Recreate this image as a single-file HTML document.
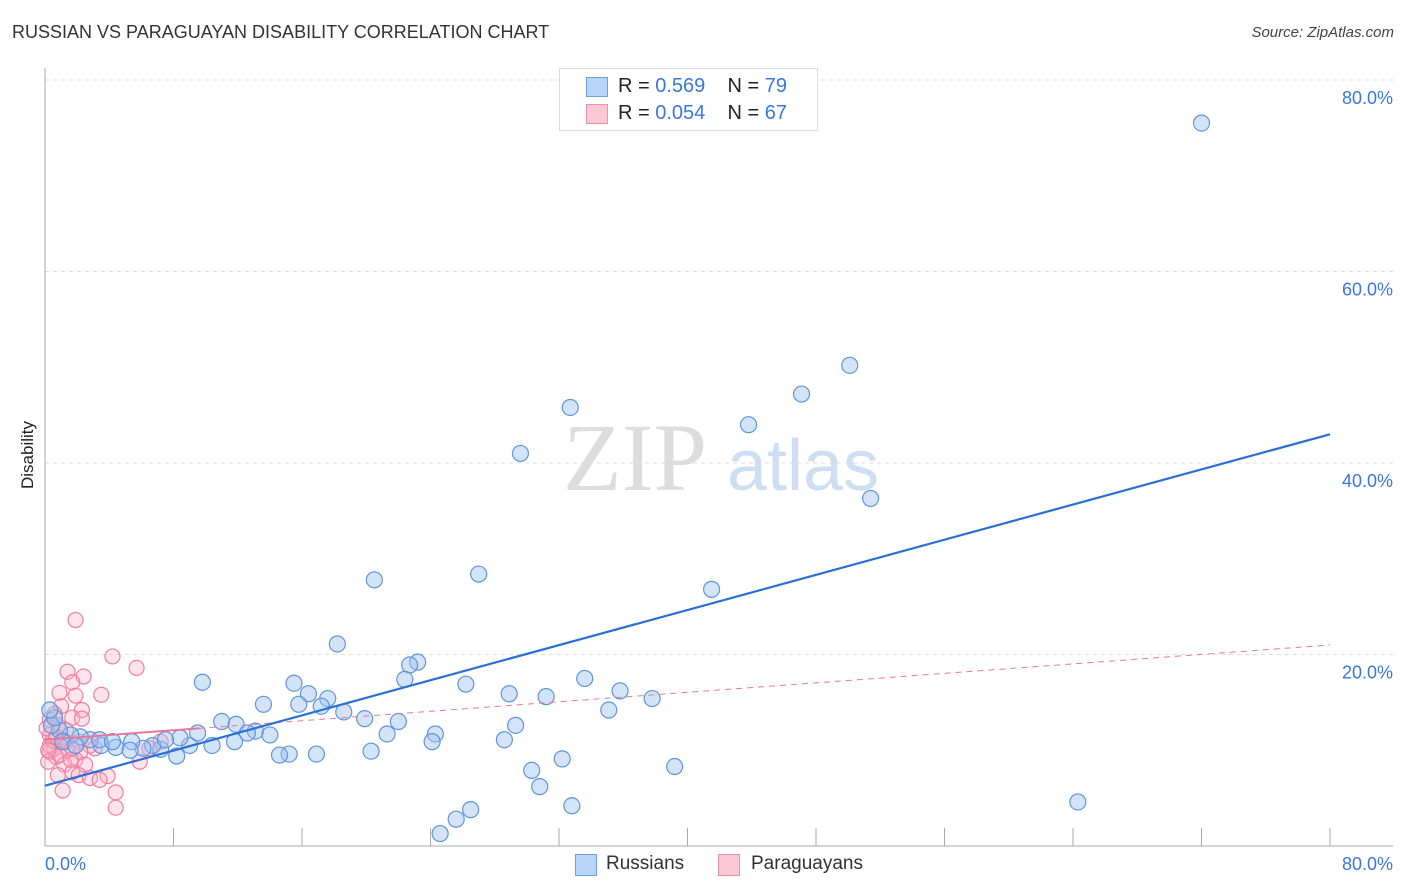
<!DOCTYPE html>
<html><head><meta charset="utf-8">
<style>
body{margin:0;background:#fff;font-family:"Liberation Sans",sans-serif;}
#wrap{position:relative;width:1406px;height:892px;overflow:hidden;}
.t{position:absolute;white-space:nowrap;}
</style></head>
<body>
<div id="wrap">
<div class="t" style="left:12px;top:22px;font-size:18px;color:#333;">RUSSIAN VS PARAGUAYAN DISABILITY CORRELATION CHART</div>
<div class="t" style="right:12px;top:24px;font-size:15px;font-style:italic;color:#444;">Source: ZipAtlas.com</div>
<svg id="chart" width="1406" height="892" style="position:absolute;left:0;top:0;"></svg>
<div class="t" style="left:18px;top:455px;transform:translate(-50%,-50%) rotate(-90deg);transform-origin:center;font-size:17px;color:#222;margin-left:10px;">Disability</div>
<div style="position:absolute;left:559px;top:68px;width:257px;height:61px;border:1px solid #ddd;background:#fff;">
 <div style="position:absolute;left:26px;top:8px;width:20px;height:18px;background:#b8d4f6;border:1px solid #6fa0e0;"></div>
 <div class="t" style="left:58px;top:6px;font-size:20px;color:#222;">R = <span style="color:#3a78d8">0.569</span>&nbsp;&nbsp;&nbsp; N = <span style="color:#3a78d8">79</span></div>
 <div style="position:absolute;left:26px;top:35px;width:20px;height:18px;background:#fbc8d6;border:1px solid #f090aa;"></div>
 <div class="t" style="left:58px;top:33px;font-size:20px;color:#222;">R = <span style="color:#3a78d8">0.054</span>&nbsp;&nbsp;&nbsp; N = <span style="color:#3a78d8">67</span></div>
</div>
<div>
 <div style="position:absolute;left:575px;top:854px;width:20px;height:20px;background:#b8d4f6;border:1px solid #6fa0e0;"></div>
 <div class="t" style="left:606px;top:853px;font-size:19px;color:#333;">Russians</div>
 <div style="position:absolute;left:718px;top:854px;width:20px;height:20px;background:#fbc8d6;border:1px solid #f090aa;"></div>
 <div class="t" style="left:751px;top:853px;font-size:19px;color:#333;">Paraguayans</div>
</div>
</div>
<script>
const blueX=[72.0,50.1,47.1,43.8,32.7,29.6,51.4,27.0,20.5,41.5,18.2,23.2,22.7,22.4,9.8,15.5,33.6,26.2,35.8,37.8,31.2,28.9,16.4,17.6,15.8,17.2,13.6,35.1,18.6,19.9,22.0,11.0,11.9,13.1,14.0,21.3,24.3,29.3,24.1,28.6,32.2,30.3,30.8,39.2,32.8,64.3,26.5,25.6,24.6,20.3,16.9,15.2,14.6,11.8,10.4,9.0,9.5,8.2,7.2,6.7,6.1,5.4,4.4,3.5,2.8,2.2,1.6,0.9,0.4,0.6,0.3,1.1,8.4,5.3,3.4,7.5,1.9,12.6,4.2];
const blueY=[75.5,50.2,47.2,44.0,45.8,41.0,36.3,28.4,27.8,26.8,21.1,19.2,18.9,17.4,17.1,17.0,17.5,16.9,16.2,15.4,15.6,15.9,15.9,15.4,14.8,14.6,14.8,14.2,14.0,13.3,13.0,13.0,12.7,12.0,11.6,11.7,11.7,12.6,10.9,11.1,9.1,7.9,6.2,8.3,4.2,4.6,3.8,2.8,1.3,9.9,9.6,9.6,9.5,10.9,10.5,10.5,11.8,9.4,10.1,10.5,10.2,10.9,10.3,10.5,11.1,11.4,11.6,12.1,12.6,13.4,14.2,10.9,11.3,10.0,11.1,11.1,10.5,11.8,10.9];
const pinkX=[1.9,4.2,5.7,1.4,2.4,1.7,3.5,0.9,1.9,1.0,2.3,0.6,1.7,2.3,0.3,0.8,1.3,0.3,1.1,2.1,2.8,0.6,1.4,0.3,2.2,0.7,1.9,0.2,1.2,5.9,2.5,1.7,0.8,2.1,3.9,2.8,3.4,1.1,4.4,4.4,0.3,0.5,0.9,1.3,1.6,0.1,3.1,7.2,6.5,0.2,0.7,1.7];
const pinkY=[23.6,19.8,18.6,18.2,17.7,17.1,15.8,16.0,15.7,14.6,14.2,13.8,13.4,13.3,13.2,12.6,12.1,11.6,11.1,10.9,10.5,10.2,10.0,9.8,9.8,9.3,9.0,8.8,8.5,8.8,8.5,7.7,7.4,7.4,7.3,7.1,6.9,5.8,5.6,4.0,10.5,11.0,9.5,10.9,9.0,12.3,10.2,10.9,10.2,10.0,11.4,10.2];
const blueTrend=[6.3,43.0];
const pinkTrend=[11.1,21.0];
const yTicks=[20,40,60,80];
const yTickLabels=["20.0%","40.0%","60.0%","80.0%"];

const X0=45,X1=1330,Y0=846,Y80=80;
const sx=v=>X0+(X1-X0)*v/80;
const sy=v=>Y0-(Y0-Y80)*v/80;
const NS="http://www.w3.org/2000/svg";
const svg=document.getElementById('chart');
function mk(t,a){const e=document.createElementNS(NS,t);for(const k in a)e.setAttribute(k,a[k]);svg.appendChild(e);return e;}

// watermark
let w1=mk('text',{x:635,y:490,'font-size':96,'font-family':'Liberation Serif,serif','fill':'#ddd','text-anchor':'middle'});w1.textContent='ZIP';


let w2=mk('text',{x:803,y:490,'font-size':72,'font-family':'Liberation Sans,sans-serif','fill':'#cfdff3','text-anchor':'middle'});w2.textContent='atlas';



yTicks.forEach((v,i)=>{
 const g=mk('line',{x1:X0,x2:1393,y1:sy(v),y2:sy(v),stroke:'#ddd','stroke-dasharray':'4,4'});
 
 
 const t=mk('text',{x:1393,y:sy(v)+24,'text-anchor':'end','font-size':18,fill:'#3a78d8','font-family':'Liberation Sans,sans-serif'});
 t.textContent=yTickLabels[i];
 
 
});
let ax=mk('line',{x1:X0,x2:X0,y1:68,y2:Y0,stroke:'#aaa'});


let bx=mk('line',{x1:X0,x2:1393,y1:Y0,y2:Y0,stroke:'#aaa'});


for(let i=0;i<=10;i++){
 const tk=mk('line',{x1:sx(i*8),x2:sx(i*8),y1:Y0,y2:Y0-18,stroke:'#aaa'});
 
 
}
const xl=mk('text',{x:45,y:870,'font-size':18,fill:'#3a78d8','font-family':'Liberation Sans,sans-serif'});xl.textContent='0.0%';


const xr=mk('text',{x:1393,y:870,'text-anchor':'end','font-size':18,fill:'#3a78d8','font-family':'Liberation Sans,sans-serif'});xr.textContent='80.0%';



pinkX.forEach((x,i)=>{
 const c=mk('circle',{cx:sx(x),cy:sy(pinkY[i]),r:7.5,fill:'rgba(248,176,198,0.35)',stroke:'#f07ea0','stroke-width':1.2});
 
 
});
blueX.forEach((x,i)=>{
 const c=mk('circle',{cx:sx(x),cy:sy(blueY[i]),r:8,fill:'rgba(160,196,240,0.45)',stroke:'#5f94dc','stroke-width':1.2});
 
 
});
const pl=mk('line',{x1:sx(0),y1:sy(pinkTrend[0]),x2:sx(80),y2:sy(pinkTrend[1]),stroke:'#e87898','stroke-width':1,'stroke-dasharray':'6,5'});


const ps=mk('line',{x1:sx(0),y1:sy(pinkTrend[0]),x2:sx(9.6),y2:sy(pinkTrend[0]+(pinkTrend[1]-pinkTrend[0])*9.6/80),stroke:'#e87898','stroke-width':2});


const bl=mk('line',{x1:sx(0),y1:sy(blueTrend[0]),x2:sx(80),y2:sy(blueTrend[1]),stroke:'#2a6fd6','stroke-width':2.2});


</script>
</body></html>
